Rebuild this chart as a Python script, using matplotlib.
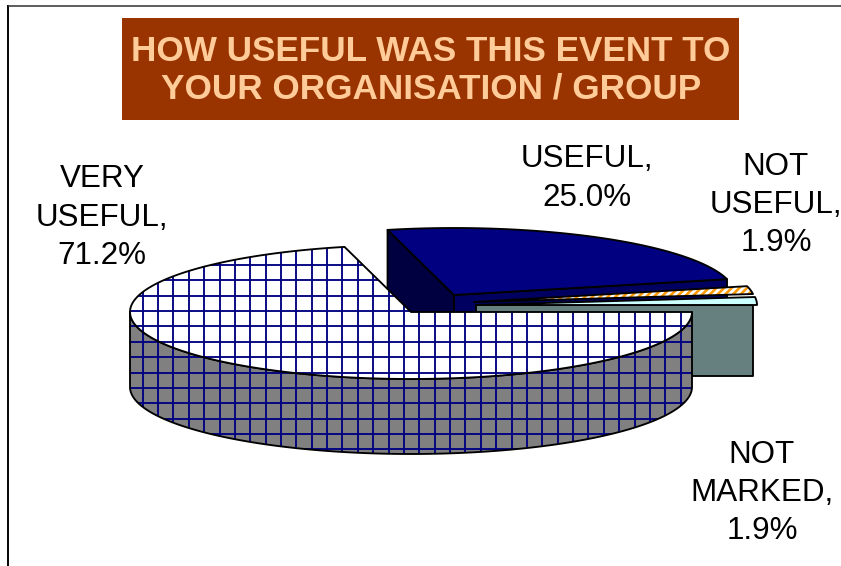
import numpy as np
import matplotlib
matplotlib.use("Agg")
import matplotlib.pyplot as plt
from matplotlib.patches import Polygon, Rectangle
from matplotlib.collections import LineCollection

# Data
categories = ["VERY\nUSEFUL", "USEFUL", "NOT\nUSEFUL", "NOT\nMARKED"]
values = [71.2, 25.0, 1.9, 1.9]
title_text = "HOW USEFUL WAS THIS EVENT TO\nYOUR ORGANISATION / GROUP"

DPI = 92.4
W, H = 841, 566
plt.rcParams["font.family"] = ["Liberation Sans", "DejaVu Sans"]
plt.rcParams["hatch.linewidth"] = 2.0

fig = plt.figure(figsize=(W / DPI, H / DPI), dpi=DPI, facecolor="white")
ax = fig.add_axes([0, 0, 1, 1])
ax.set_xlim(0, W)
ax.set_ylim(H, 0)
ax.axis("off")

RX, RY = 281.0, 67.0
LW = 1.45
centres = [(411, 312), (454, 295), (474, 302), (476, 305)]
depths = [75, 74, 72, 71]
top_colors = ["white", "#000080", "white", "#CCFFFF"]


def pt(c, deg):
    t = np.radians(deg)
    return np.array([c[0] + RX * np.cos(t), c[1] - RY * np.sin(t)])


def arc(c, a, b, n=120):
    t = np.radians(np.linspace(a, b, n))
    return np.column_stack([c[0] + RX * np.cos(t), c[1] - RY * np.sin(t)])


def poly(xy, fc, z, ec="black"):
    p = Polygon(xy, closed=True, facecolor=fc, edgecolor=ec, linewidth=LW,
                joinstyle="round", zorder=z)
    ax.add_patch(p)
    return p


def grid_over(xy, fc, z):
    """Filled polygon with a navy lattice clipped to it and a black outline."""
    base = Polygon(xy, closed=True, facecolor=fc, edgecolor="none", zorder=z)
    ax.add_patch(base)
    xs = np.arange(127.3, 710, 15.37)
    ys = np.arange(265.0, 470, 15.37)
    segs = [[(x, 230), (x, 470)] for x in xs] + [[(110, y), (710, y)] for y in ys]
    lc = LineCollection(segs, colors="#000080", linewidths=1.45, zorder=z + 0.05)
    ax.add_collection(lc)
    lc.set_clip_path(base)
    ax.add_patch(Polygon(xy, closed=True, fill=False, edgecolor="black",
                         linewidth=LW, joinstyle="round", zorder=z + 0.1))


cum = np.cumsum([0] + values) / sum(values) * 360.0
start = [(-cum[i]) % 360 for i in range(len(values))]
end = [(-cum[i + 1]) % 360 for i in range(len(values))]
a_vu0, a_vu1 = 0.0, end[0] - 360
a_u0, a_u1 = start[1], end[1]
a_nu0, a_nu1 = start[2], end[2]
a_nm0, a_nm1 = start[3], 0.0

# USEFUL
c, d = centres[1], depths[1]
p0, p1 = pt(c, a_u0), pt(c, a_u1)
poly([c, p0, p0 + [0, d], np.array(c) + [0, d]], "#000040", 1)
poly([c, p1, p1 + [0, d], np.array(c) + [0, d]], "#000060", 2)
poly(np.vstack([[c], arc(c, a_u0, a_u1)]), top_colors[1], 3)

# NOT USEFUL
c, d = centres[2], depths[2]
nu_xy = np.vstack([[c], arc(c, a_nu0, a_nu1)])
ax.add_patch(Polygon(nu_xy, closed=True, facecolor="white", edgecolor="#FF9900",
                     hatch="////", linewidth=0, zorder=4))
ax.add_patch(Polygon(nu_xy, closed=True, fill=False, edgecolor="black",
                     linewidth=LW, joinstyle="round", zorder=4.1))

# NOT MARKED
c, d = centres[3], depths[3]
right = pt(c, a_nm1) - [4, 0]
poly([c, right, right + [0, d], np.array(c) + [0, d]], "#668080", 5)
poly(np.vstack([[c], arc(c, a_nm0, a_nm1)]), top_colors[3], 6)

# VERY USEFUL
c, d = centres[0], depths[0]
front = arc(c, -180, 0)
grid_over(np.vstack([front, (front + [0, d])[::-1]]), "#808080", 7)
grid_over(np.vstack([[c], arc(c, a_vu0, a_vu1, 300)]), top_colors[0], 8)

# Frame lines
ax.plot([8, 8], [5, H], color="black", lw=1.5, zorder=9, solid_capstyle="butt")
ax.plot([8, W], [6, 6], color="#333333", lw=1.2, zorder=9, solid_capstyle="butt")

# Title box
ax.add_patch(Rectangle((122, 18), 617, 102, facecolor="#993300", edgecolor="none", zorder=10))
ax.text(431, 70.5, title_text, ha="center", va="center", color="#FFCC99",
        fontsize=27.4, fontweight="bold", linespacing=1.19, zorder=11)

# Data labels
label_pos = [(102, 217.5), (587, 178.5), (776, 205), (762, 493)]
for name, v, (x, y) in zip(categories, values, label_pos):
    ax.text(x, y, f"{name},\n{v:.1f}%", ha="center", va="center", color="black",
            fontsize=24.5, linespacing=1.36, zorder=11)

fig.savefig("out.png", dpi=DPI, facecolor="white")
